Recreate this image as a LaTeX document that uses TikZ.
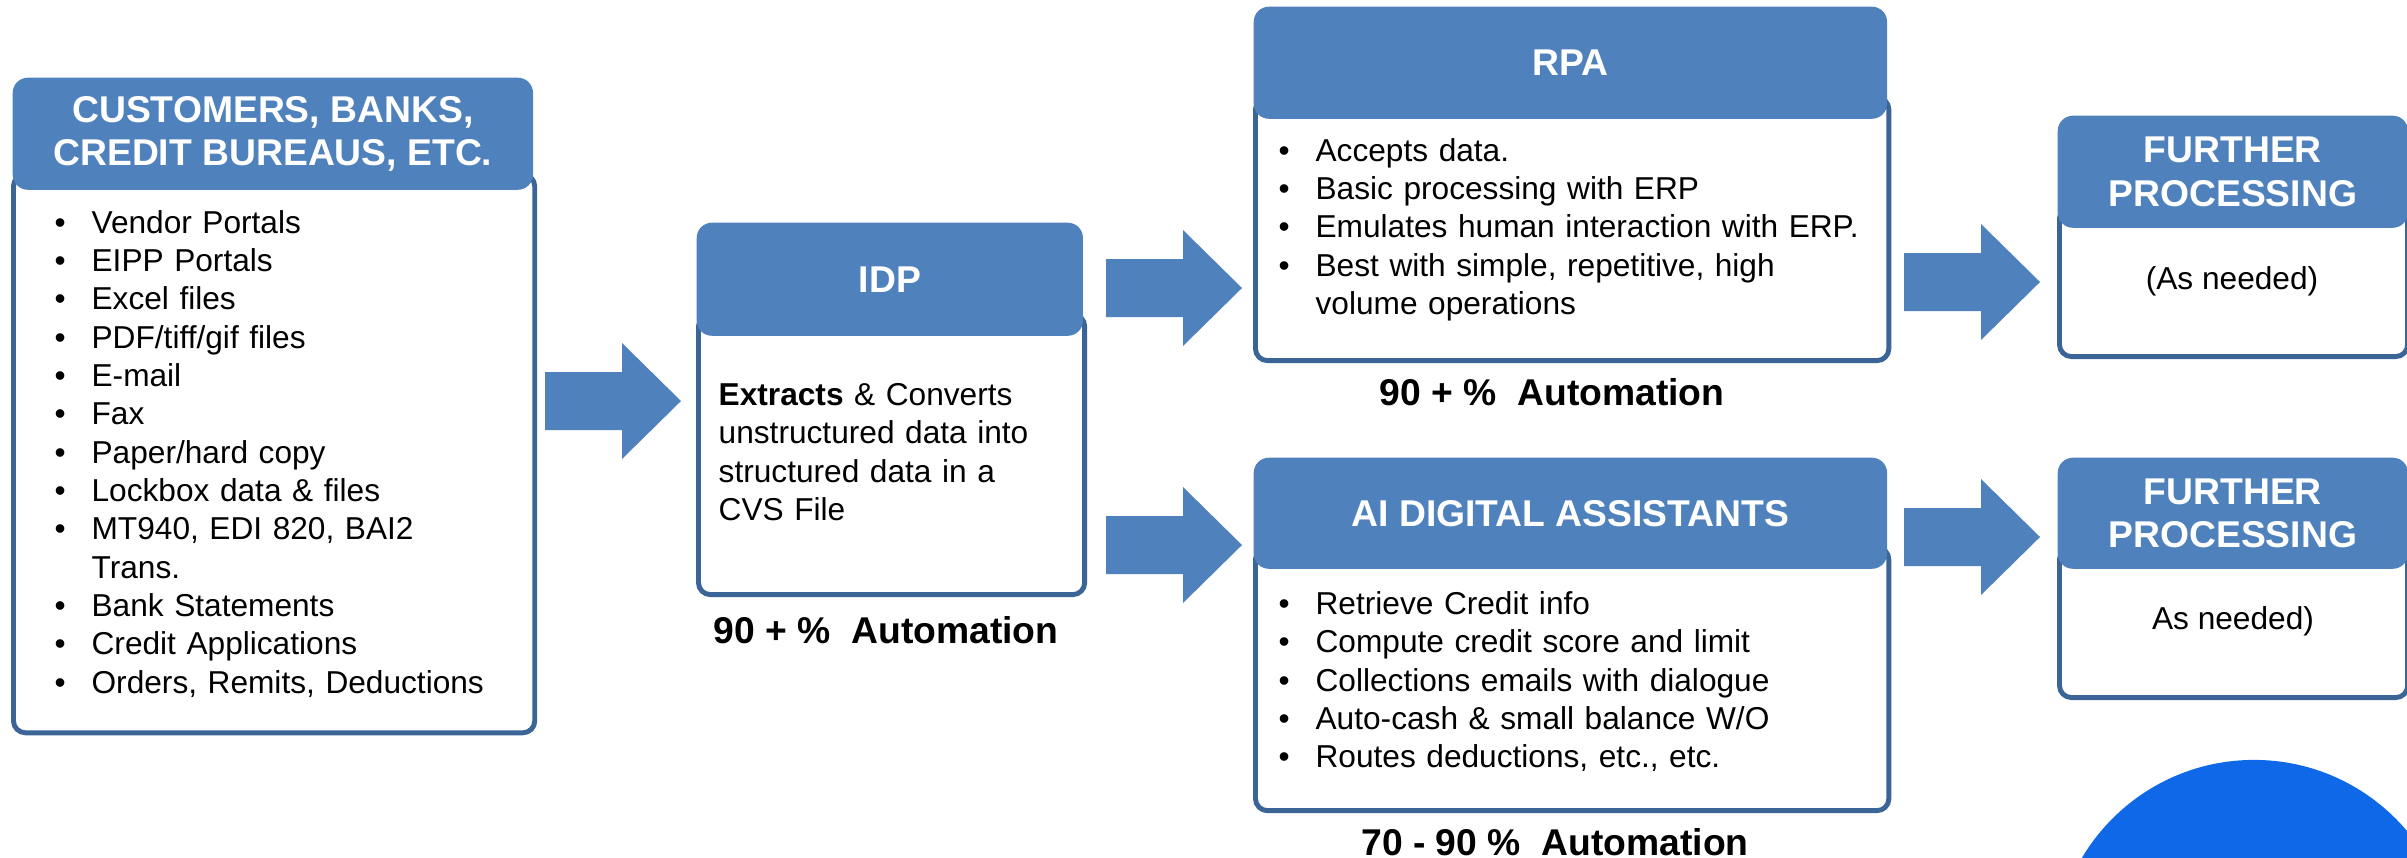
\documentclass[tikz,border=0pt]{standalone}
\usepackage{fontspec}
\setmainfont{Liberation Sans}
\usepackage{tikz}

\definecolor{hdrblue}{HTML}{4F81BD}
\definecolor{edgeblue}{HTML}{3A6596}
\definecolor{dotblue}{HTML}{0F68E8}

\newcommand{\hdrfont}{\fontsize{10.6}{12.3}\selectfont\bfseries}
\newcommand{\txtfont}{\fontsize{9}{10.9}\selectfont}
\newcommand{\bul}[1]{\par\noindent\makebox[10.5pt][l]{\textbullet}#1}
\newcommand{\cont}{\newline\hspace*{10.5pt}}

\tikzset{blockarrow/.pic={\fill[hdrblue] (0,-29) -- (77,-29) -- (77,-58) -- (136,0) -- (77,58) -- (77,29) -- (0,29) -- cycle;}}

\begin{document}
\begin{tikzpicture}[x=0.01cm, y=-0.01cm,
    head/.style={fill=hdrblue, rounded corners=4.3pt, text=white, font=\hdrfont, align=center, inner sep=0pt, anchor=north west},
    body/.style={draw=edgeblue, line width=1.4pt, fill=white, rounded corners=3.4pt, inner sep=0pt, anchor=north west},
    list/.style={font=\txtfont, align=left, text width=#1, inner sep=0pt, anchor=west},
    auto/.style={font=\hdrfont, inner sep=0pt}]
    \useasboundingbox (0,0) rectangle (2407,857);

    % sources
    \node[body, minimum width=5.21cm, minimum height=5.58cm](srcbody) at (11,172) {};
    \node[head, minimum width=5.20cm, minimum height=1.12cm](srchead) at (12,77) {CUSTOMERS, BANKS,\\CREDIT BUREAUS, ETC.};
    \node[list=4.6cm](srclist) at (54,446) {\bul{Vendor Portals}\bul{EIPP Portals}\bul{Excel files}\bul{PDF/tiff/gif files}\bul{E-mail}\bul{Fax}\bul{Paper/hard copy}\bul{Lockbox data \& files}\bul{MT940, EDI 820, BAI2\cont Trans.}\bul{Bank Statements}\bul{Credit Applications}\bul{Orders, Remits, Deductions}};

    % IDP
    \node[body, minimum width=3.86cm, minimum height=2.80cm](idpbody) at (696,312) {};
    \node[head, minimum width=3.86cm, minimum height=1.13cm](idphead) at (696,222) {IDP};
    \node[list=3.5cm](idptext) at (718,452) {\textbf{Extracts} \& Converts unstructured data into structured data in a CVS File};
    \node[auto](idpauto) at (886,630) {90 + \%\ \ Automation};

    % RPA
    \node[body, minimum width=6.33cm, minimum height=2.63cm](rpabody) at (1253,95) {};
    \node[head, minimum width=6.33cm, minimum height=1.12cm](rpahead) at (1253,6) {RPA};
    \node[list=5.9cm](rpalist) at (1278,222) {\bul{Accepts data.}\bul{Basic processing with ERP}\bul{Emulates human interaction with ERP.}\bul{Best with simple, repetitive, high\cont volume operations}};
    \node[auto](rpaauto) at (1552,392) {90 + \%\ \ Automation};

    % AI digital assistants
    \node[body, minimum width=6.33cm, minimum height=2.63cm](aibody) at (1253,545) {};
    \node[head, minimum width=6.33cm, minimum height=1.11cm](aihead) at (1253,457) {AI DIGITAL ASSISTANTS};
    \node[list=5.9cm](ailist) at (1278,674) {\bul{Retrieve Credit info}\bul{Compute credit score and limit}\bul{Collections emails with dialogue}\bul{Auto-cash \& small balance W/O}\bul{Routes deductions, etc., etc.}};
    \node[auto](aiauto) at (1555,842) {70 - 90 \%\ \ Automation};

    % further processing
    \node[body, minimum width=3.48cm, minimum height=1.50cm](fpbodya) at (2057,204) {};
    \node[head, minimum width=3.50cm, minimum height=1.12cm](fpheada) at (2057,115) {FURTHER\\PROCESSING};
    \node[font=\txtfont](fptexta) at (2232,281) {(As needed)};
    \node[body, minimum width=3.48cm, minimum height=1.50cm](fpbodyb) at (2057,545) {};
    \node[head, minimum width=3.50cm, minimum height=1.11cm](fpheadb) at (2057,457) {FURTHER\\PROCESSING};
    \node[font=\txtfont](fptextb) at (2233,621) {As needed)};

    \pic (arra) at (545,401) {blockarrow};
    \pic (arrb) at (1106,288) {blockarrow};
    \pic (arrc) at (1106,545) {blockarrow};
    \pic (arrd) at (1904,282) {blockarrow};
    \pic (arre) at (1904,537) {blockarrow};

    \fill[dotblue] (2254,960) circle (2.0cm);
\end{tikzpicture}
\end{document}
